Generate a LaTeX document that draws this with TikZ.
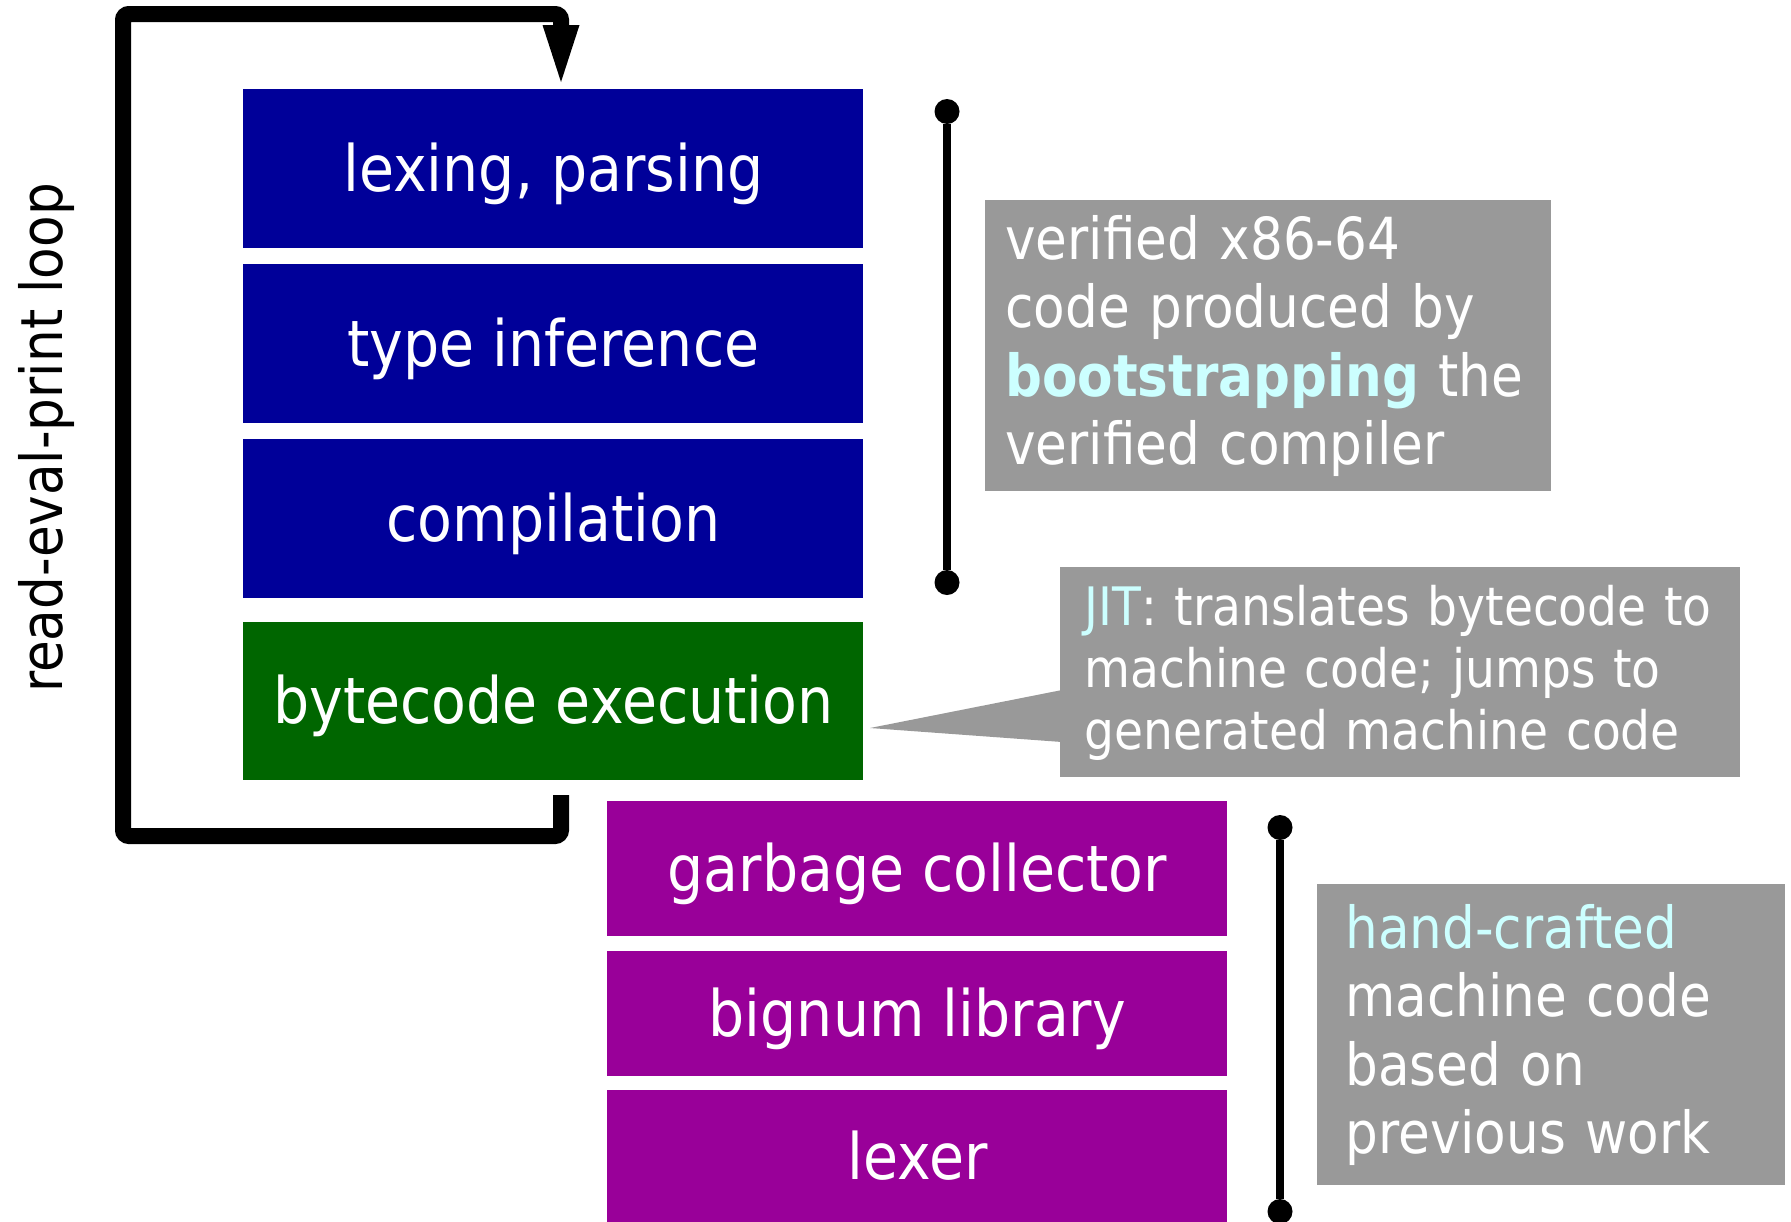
\documentclass[tikz,border=0pt]{standalone}
\usepackage{fontspec}
\setmainfont{DejaVu Sans}[FakeStretch=0.89]
\usetikzlibrary{arrows.meta, positioning}
\definecolor{stageblue}{HTML}{000099}
\definecolor{stagegreen}{HTML}{006600}
\definecolor{stagepurple}{HTML}{990099}
\definecolor{notegray}{HTML}{999999}
\definecolor{hilite}{HTML}{CCFFFF}

\begin{document}
\begin{tikzpicture}[x=0.5pt,y=-0.5pt,
	>={Triangle[length=28.5pt,width=18.5pt,line width=0pt]}]
	
	\tikzset{stage/.style={draw=none, text=white,
			minimum width=310pt, inner sep=0pt,
			text height=23pt, text depth=0pt,
			font=\fontsize{32}{38}\selectfont},
		note/.style={fill=notegray, text=white, align=left,
			anchor=north west, inner ysep=0pt},
		span/.style={line width=4pt,
			{Circle[length=12.5pt,line width=0pt]}-{Circle[length=12.5pt,line width=0pt]}},
		repl line/.style={line width=8pt, rounded corners=3pt}}
	
	\useasboundingbox (0,0) rectangle (1791,1221);
	
	\node[stage, fill=stageblue, minimum height=79.5pt, anchor=north west] (lex) at (243,89) {lexing, parsing};
	\node[stage, fill=stageblue, minimum height=79.5pt, below=7.5pt of lex] (infer) {type inference};
	\node[stage, fill=stageblue, minimum height=79.5pt, below=7.5pt of infer] (comp) {compilation};
	\node[stage, fill=stagegreen, minimum height=79pt, below=11.5pt of comp] (exec) {bytecode execution};
	
	\node[stage, fill=stagepurple, minimum height=67.5pt, anchor=north west] (gc) at (607,801) {garbage collector};
	\node[stage, fill=stagepurple, minimum height=62.5pt, below=7pt of gc] (bignum) {bignum library};
	\node[stage, fill=stagepurple, minimum height=66.5pt, below=6.5pt of bignum] (lexer) {lexer};
	
	\node[note, minimum width=283pt, minimum height=145.5pt, text width=263pt, inner xsep=10pt,
		font=\fontsize{29}{34.25}\selectfont] (boot) at (985,200)
		{verified x86-64\\ code produced by\\ \textbf{\color{hilite}bootstrapping} the\\ verified compiler};
	\node[note, minimum width=340pt, minimum height=105pt, text width=316pt, inner xsep=12pt,
		font=\fontsize{26.5}{31}\selectfont] (jit) at (1060,567)
		{{\color{hilite}JIT}: translates bytecode to\\ machine code; jumps to\\ generated machine code};
	\node[note, minimum width=234pt, minimum height=150.5pt, text width=206pt, inner xsep=14pt,
		font=\fontsize{29}{34.25}\selectfont] (hand) at (1317,884)
		{{\color{hilite}hand-crafted}\\ machine code\\ based on\\ previous work};
	
	\coordinate (jittip) at (870,728);
	\fill[notegray] ([xshift=1pt,yshift=-61.5pt]jit.north west) -- (jittip)
		-- ([xshift=1pt,yshift=-87.5pt]jit.north west) -- cycle;
	
	\node[rotate=90, font=\fontsize{29}{34}\selectfont] (repl) at (46,438) {read-eval-print loop};
	
	\coordinate (back) at (561,795);
	\coordinate (entry) at (561,82);
	\draw[repl line, ->] (back) -- ++(0,41) -| (123,14) -| (entry);
	
	\coordinate (vtop) at (947,99);
	\coordinate (vbot) at (947,595);
	\draw[span] (vtop) -- (vbot);
	\coordinate (ntop) at (1280,815);
	\coordinate (nbot) at (1280,1224);
	\draw[span] (ntop) -- (nbot);
	
\end{tikzpicture}
\end{document}
